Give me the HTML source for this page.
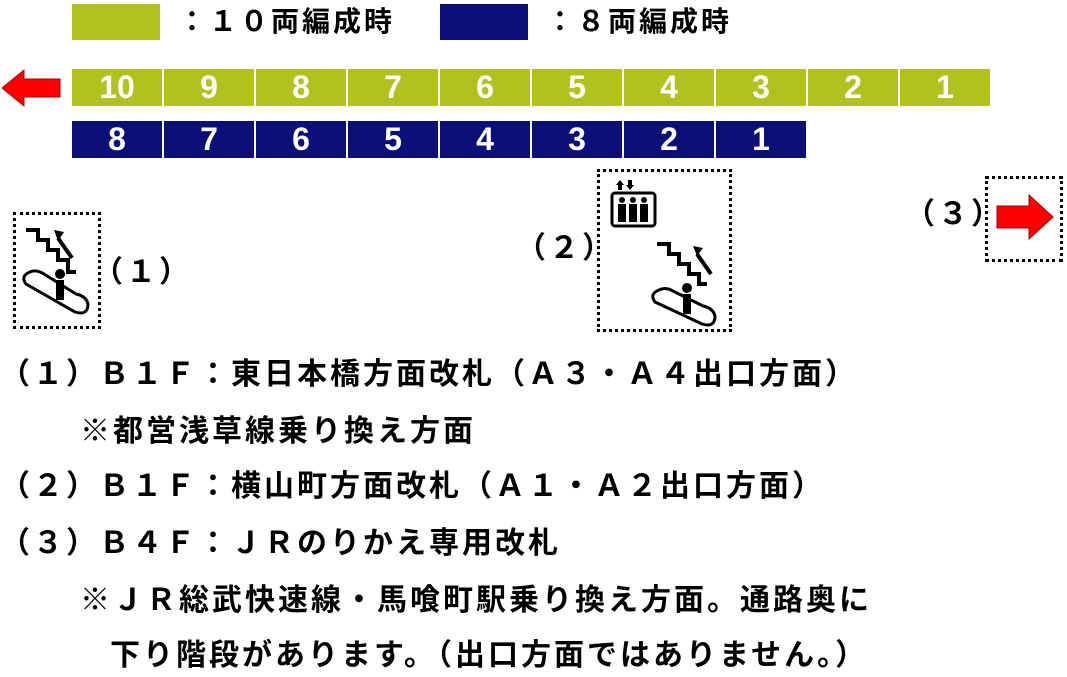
<!DOCTYPE html>
<html><head><meta charset="utf-8"><style>
body{margin:0;width:1067px;height:677px;background:#fff;position:relative;overflow:hidden;font-family:"Liberation Sans","Noto Sans CJK JP",sans-serif;font-weight:bold;color:#000}
.a{position:absolute;white-space:nowrap}
.t{font-size:30px;letter-spacing:3px;line-height:36px}
.bar{position:absolute;display:flex;height:37px}
.bar div{width:90px;margin-right:2px;color:#fff;font-size:32px;display:flex;align-items:center;justify-content:center;font-weight:bold}
.g div{background:#b2c11e}
.n div{background:#0b0f78}
.box{position:absolute;border:3px dotted #000;box-sizing:border-box}
</style></head><body>
<div class="a" style="left:72px;top:4px;width:88px;height:36px;background:#b2c11e"></div>
<div class="a t" style="left:178px;top:4px;font-size:28px">：１０両編成時</div>
<div class="a" style="left:440px;top:4px;width:88px;height:36px;background:#0b0f78"></div>
<div class="a t" style="left:546px;top:4px;font-size:28px">：８両編成時</div>

<svg class="a" style="left:2px;top:68px" width="60" height="40"><polygon points="0,20 22,2 22,11 58,11 58,29 22,29 22,38" fill="#f00" stroke="#900" stroke-width="1"/></svg>
<div class="bar g" style="left:72px;top:69px"><div>10</div><div>9</div><div>8</div><div>7</div><div>6</div><div>5</div><div>4</div><div>3</div><div>2</div><div>1</div></div>
<div class="bar n" style="left:72px;top:121px"><div>8</div><div>7</div><div>6</div><div>5</div><div>4</div><div>3</div><div>2</div><div>1</div></div>

<div class="box" style="left:13px;top:212px;width:88px;height:117px"></div>
<svg class="a" style="left:18px;top:222px" width="80" height="100"><g fill="none" stroke="#000" stroke-width="4"><polyline points="8,8 20,8 20,18 30,18 30,28 40,28 40,38 50,38 50,50 58,50"/><line x1="54" y1="36" x2="40" y2="16"/></g><polygon points="36,8 46,10 40,19" fill="#000"/><circle cx="42" cy="52" r="5"/><rect x="38" y="58" width="8" height="20"/><path d="M12,50 Q2,54 8,62 L57,90 Q70,94 70,82 Q68,74 58,72 L42,62 L26,52 Q18,47 12,50Z" fill="none" stroke="#000" stroke-width="3"/></svg>
<div class="a t" style="left:93px;top:255px">（１）</div>

<div class="a t" style="left:516px;top:231px">（２）</div>
<div class="box" style="left:597px;top:169px;width:135px;height:163px"></div>
<svg class="a" style="left:610px;top:178px" width="50" height="50"><polygon points="10,2 14,7 12,7 12,12 8,12 8,7 6,7" /><polygon points="20,12 24,7 22,7 22,2 18,2 18,7 16,7"/><rect x="2" y="15" width="43" height="33" rx="3" fill="#fff" stroke="#000" stroke-width="3"/><g fill="#000"><circle cx="12" cy="22" r="3"/><rect x="8" y="26" width="8" height="18"/><circle cx="23" cy="22" r="3"/><rect x="19" y="26" width="8" height="18"/><circle cx="34" cy="22" r="3"/><rect x="30" y="26" width="8" height="18"/></g></svg>
<svg class="a" style="left:645px;top:232px" width="80" height="98"><g fill="none" stroke="#000" stroke-width="4"><polyline points="12,12 24,12 24,22 34,22 34,32 44,32 44,42 54,42 54,52 62,52"/><line x1="66" y1="42" x2="52" y2="22"/></g><polygon points="48,14 58,16 52,24" fill="#000"/><circle cx="42" cy="56" r="5"/><rect x="38" y="62" width="8" height="20"/><path d="M14,58 Q4,62 10,70 L57,92 Q70,96 70,84 Q68,76 58,74 L42,66 L26,58 Q20,55 14,58Z" fill="none" stroke="#000" stroke-width="3"/></svg>

<div class="a t" style="left:905px;top:197px">（３）</div>
<div class="box" style="left:985px;top:176px;width:78px;height:86px"></div>
<svg class="a" style="left:995px;top:193px" width="60" height="48"><polygon points="58,24 34,2 34,13 2,13 2,35 34,35 34,46" fill="#f00" stroke="#900" stroke-width="1"/></svg>

<div class="a t" style="left:0;top:357px">（１）Ｂ１Ｆ：東日本橋方面改札（Ａ３・Ａ４出口方面）</div>
<div class="a t" style="left:80px;top:414px">※都営浅草線乗り換え方面</div>
<div class="a t" style="left:0;top:469px">（２）Ｂ１Ｆ：横山町方面改札（Ａ１・Ａ２出口方面）</div>
<div class="a t" style="left:0;top:526px">（３）Ｂ４Ｆ：ＪＲのりかえ専用改札</div>
<div class="a t" style="left:80px;top:583px">※ＪＲ総武快速線・馬喰町駅乗り換え方面。通路奥に</div>
<div class="a t" style="left:110px;top:638px">下り階段があります。（出口方面ではありません。）</div>
</body></html>
